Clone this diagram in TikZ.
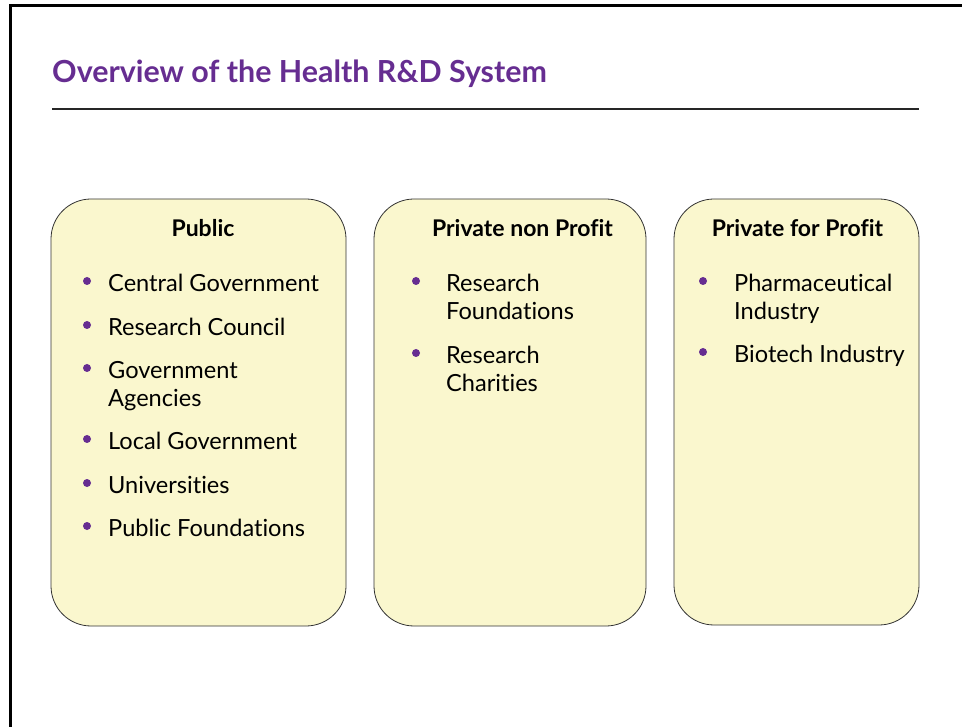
\documentclass[tikz,border=0pt]{standalone}
\usepackage{fontspec}
\setmainfont{Lato}[Ligatures=NoCommon]
\usetikzlibrary{positioning}
\definecolor{titlepurple}{RGB}{102,45,145}
\definecolor{boxfill}{RGB}{250,247,206}

\tikzset{
  sector/.style={draw=black!80, fill=boxfill, rounded corners=40pt, line width=0.8pt},
  heading/.style={font=\fontsize{23}{27}\selectfont\bfseries, anchor=base, inner sep=0pt},
  entry/.style={font=\fontsize{23.6}{28}\selectfont, anchor=north west, align=left, inner sep=0pt},
  bulletdot/.style={circle, fill=titlepurple, inner sep=0pt, minimum size=8pt}
}

\begin{document}
\begin{tikzpicture}[x=1pt, y=-1pt]
    \useasboundingbox (0,0) rectangle (962,727);

    % slide frame
    \draw[line width=3pt] (10,727) -- (10,6) -- (962,6);

    % title and rule
    \node[font=\fontsize{30.4}{36}\selectfont\bfseries, text=titlepurple, anchor=base west, inner sep=0pt]
        (title) at (52,83) {Overview of the Health R\&D System};
    \draw[line width=1.6pt, black!85] (52,109) -- (919,109);

    % the three sectors
    \node[sector, minimum width=295, minimum height=427] (public) at (198.5,412.5) {};
    \node[sector, minimum width=272, minimum height=427] (nonprofit) at (510,412.5) {};
    \node[sector, minimum width=245, minimum height=426] (forprofit) at (796.5,412) {};

    % headings
    \node[heading] (publichead) at (203,237) {Public};
    \node[heading] (nonprofithead) at (522.5,237) {Private non Profit};
    \node[heading] (forprofithead) at (797.5,237) {Private for Profit};

    % public (strut height = 0.7 x 28 = 19.6 above the first baseline)
    \foreach \txt/\yy [count=\i] in {Central Government/291, Research Council/335,
        {Government\\Agencies}/378, Local Government/449, Universities/493, Public Foundations/536}{
        \node[entry] (pub\i) at (108,\yy-19.6) {\strut\txt};
        \node[bulletdot] (pubdot\i) at (87,\yy-10) {};
    }

    % private non profit
    \foreach \txt/\yy [count=\i] in {{Research\\Foundations}/291, {Research\\Charities}/363}{
        \node[entry] (npo\i) at (446,\yy-19.6) {\strut\txt};
        \node[bulletdot] (npodot\i) at (416,\yy-10) {};
    }

    % private for profit
    \foreach \txt/\yy [count=\i] in {{Pharmaceutical\\Industry}/291, Biotech Industry/362}{
        \node[entry] (fpo\i) at (734,\yy-19.6) {\strut\txt};
        \node[bulletdot] (fpodot\i) at (703,\yy-10) {};
    }
\end{tikzpicture}
\end{document}
